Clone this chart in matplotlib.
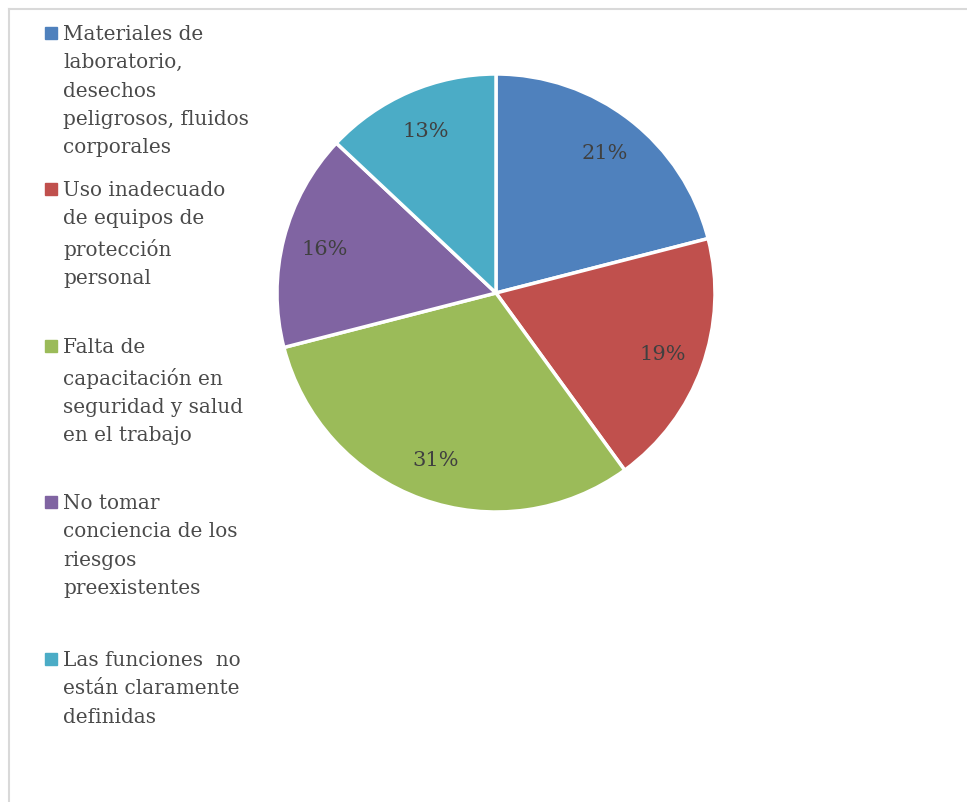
import matplotlib
matplotlib.use("Agg")
from matplotlib import pyplot as plt
from matplotlib.lines import Line2D

categories = [
    "Materiales de\nlaboratorio,\ndesechos\npeligrosos, fluidos\ncorporales",
    "Uso inadecuado\nde equipos de\nprotección\npersonal",
    "Falta de\ncapacitación en\nseguridad y salud\nen el trabajo",
    "No tomar\nconciencia de los\nriesgos\npreexistentes",
    "Las funciones  no\nestán claramente\ndefinidas",
]
values = [21, 19, 31, 16, 13]
colors = ["#4F81BD", "#C0504D", "#9BBB59", "#8064A2", "#4BACC6"]

plt.rcParams['font.family'] = ['DejaVu Serif', 'Liberation Serif']

fig = plt.figure(figsize=(9.67, 8.03), dpi=100)

# light frame (top and left visible)
fig.add_artist(Line2D([9 / 967, 1.0], [1 - 10 / 803, 1 - 10 / 803], color="#d9d9d9", lw=1.5))
fig.add_artist(Line2D([9 / 967, 9 / 967], [0, 1 - 10 / 803], color="#d9d9d9", lw=1.5))

# pie centred at (496, 294), radius ~219 px
r = 219
ax = fig.add_axes([(496 - r) / 967, 1 - (294 + r) / 803, 2 * r / 967, 2 * r / 803])
wedges, texts, autotexts = ax.pie(
    values, colors=colors, startangle=90, counterclock=False,
    autopct=lambda p: f"{p:.0f}%", pctdistance=0.81,
    wedgeprops=dict(edgecolor="white", linewidth=2.5),
    textprops=dict(color="#404040", fontsize=15),
)
ax.set_aspect("auto")
ax.set_xlim(-1, 1)
ax.set_ylim(-1, 1)

# legend
ys = [34, 190, 347, 503, 660]
for lab, c, y in zip(categories, colors, ys):
    fig.patches.append(plt.Rectangle((45 / 967, 1 - (y + 6) / 803), 12 / 967, 12 / 803,
                                     transform=fig.transFigure, color=c))
    fig.text(63 / 967, 1 - (y - 9) / 803, lab, fontsize=14.4, color="#4a4a4a",
             va="top", ha="left", linespacing=1.62)

fig.savefig("out.png", dpi=100)
